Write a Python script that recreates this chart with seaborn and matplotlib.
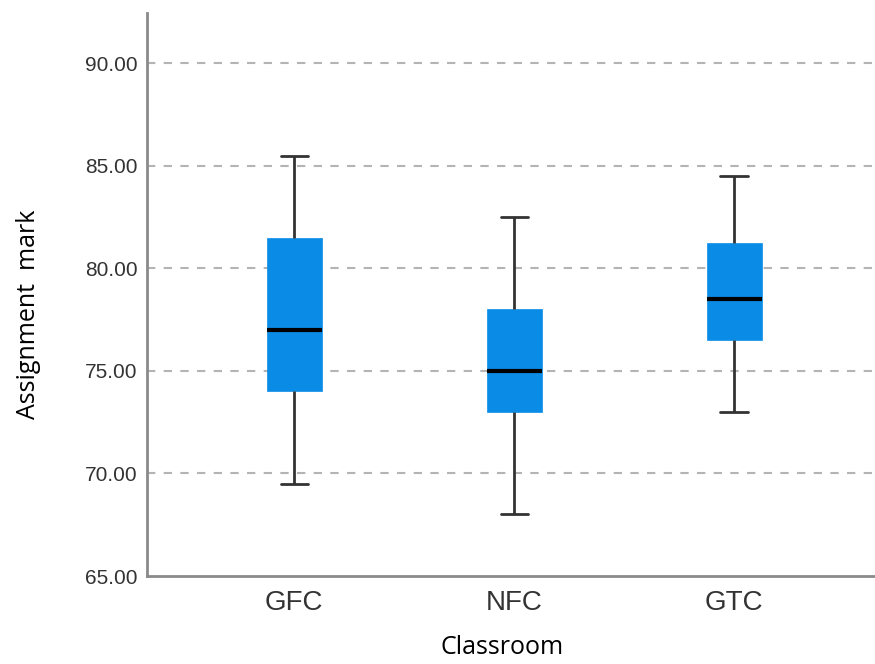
import numpy as np
import pandas as pd
import matplotlib
matplotlib.use("Agg")
import matplotlib.pyplot as plt
import seaborn as sns

categories = ["GFC", "NFC", "GTC"]
whisker_low = [69.5, 68.0, 73.0]
q1 = [74.0, 73.0, 76.5]
median = [77.0, 75.0, 78.5]
q3 = [81.5, 78.0, 81.25]
whisker_high = [85.5, 82.5, 84.5]
y_ticks = [65, 70, 75, 80, 85, 90]

rows = []
for i, c in enumerate(categories):
    for v in (whisker_low[i], q1[i], median[i], q3[i], whisker_high[i]):
        rows.append({"Classroom": c, "Assignment mark": v})
df = pd.DataFrame(rows)

sns.set_theme(style="white")
plt.rcParams["font.family"] = ["Liberation Sans", "DejaVu Sans"]

fig = plt.figure(figsize=(8.75, 6.64), dpi=100)
ax = fig.add_axes([147/875, 1-576/664, 1-147/875, (576-13)/664])

for y in y_ticks[1:]:
    ax.axhline(y, color="#b4b4b4", lw=1.5, ls=(0, (4, 4)), zorder=0)

sns.boxplot(data=df, x="Classroom", y="Assignment mark", order=categories,
            color="#0A8CE6", saturation=1, width=0.25, whis=np.inf, ax=ax,
            linewidth=2, linecolor="#333333",
            boxprops=dict(edgecolor="#0A8CE6", linewidth=0.5),
            medianprops=dict(color="black", linewidth=3),
            whiskerprops=dict(color="#333333", linewidth=2),
            capprops=dict(color="#333333", linewidth=2),
            showfliers=False)

ax.set_xlim(-0.67, 2.64)
ax.set_ylim(65, 92.45)
ax.set_yticks(y_ticks)
ax.set_yticklabels([f"{v:.2f}" for v in y_ticks])
ax.tick_params(axis="y", length=0, pad=7, labelsize=15, labelcolor="#333333")
ax.tick_params(axis="x", length=0, pad=10, labelsize=20, labelcolor="#333333")

for s in ["top", "right"]:
    ax.spines[s].set_visible(False)
for s in ["left", "bottom"]:
    ax.spines[s].set_color("#8a8a8a")
    ax.spines[s].set_linewidth(2)

ax.set_xlabel("Classroom", fontsize=18, family=["Open Sans", "DejaVu Sans"], color="black")
ax.set_ylabel("Assignment  mark", fontsize=18, family=["Open Sans", "DejaVu Sans"], color="black")
ax.xaxis.set_label_coords(0.488, -0.105)
ax.yaxis.set_label_coords(-0.145, 0.464)

fig.savefig("out.png", dpi=100)
